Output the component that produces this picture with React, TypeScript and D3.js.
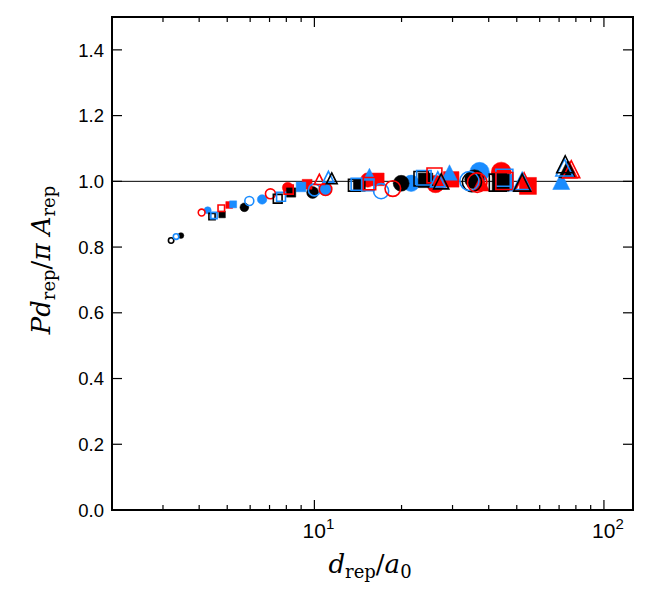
import React from 'react'
import * as d3 from 'd3'

// d_rep/a0 vs P d_rep / (pi A_rep), grouped by colour / marker / fill
const blackOpenCircle: [number, number][] = [[3.2, 0.82], [35.0, 0.998]]
const blueOpenCircle: [number, number][] = [[3.33, 0.832], [5.96, 0.94], [10.0, 0.974], [17.0, 0.97], [34.3, 1.001]]
const blackFilledCircle: [number, number][] = [[3.46, 0.835], [5.73, 0.921], [9.86, 0.966], [19.94, 0.994], [35.7, 1.006]]
const redOpenCircle: [number, number][] = [[4.08, 0.905], [7.05, 0.962], [10.93, 0.976], [18.66, 0.978], [36.5, 0.996]]
const blueFilledCircle: [number, number][] = [[4.28, 0.912], [6.6, 0.945], [10.9, 0.976], [21.59, 0.994], [37.2, 1.028]]
const redFilledCircle: [number, number][] = [[8.09, 0.981], [15.29, 1.004], [26.2, 0.992], [44.2, 1.028]]

const blackOpenSquare: [number, number][] = [[4.43, 0.893], [7.47, 0.947], [13.74, 0.988], [23.38, 1.008], [43.0, 0.996]]
const blueOpenSquare: [number, number][] = [[4.5, 0.896], [7.67, 0.953], [14.04, 0.991], [15.29, 0.99], [23.88, 1.011], [45.3, 1.011]]
const redOpenSquare: [number, number][] = [[4.77, 0.918], [8.15, 0.975], [15.5, 0.993], [25.98, 1.018], [45.3, 1.001]]
const blackFilledSquare: [number, number][] = [[4.8, 0.899], [8.31, 0.966], [14.3, 0.988], [24.2, 1.003], [44.0, 0.996]]
const redFilledSquare: [number, number][] = [[5.08, 0.928], [9.44, 0.991], [16.56, 1.006], [29.68, 1.006], [54.64, 0.986]]
const blueFilledSquare: [number, number][] = [[5.24, 0.93], [8.99, 0.983], [45.34, 0.996]]

const redOpenTriangle: [number, number][] = [[10.4, 1.006], [53.0, 1.0], [77.1, 1.037]]
const blueOpenTriangle: [number, number][] = [[11.18, 1.014], [26.69, 1.006], [52.2, 1.001], [73.0, 1.042]]
const blackOpenTriangle: [number, number][] = [[11.48, 1.009], [27.41, 1.0], [52.2, 0.996], [73.5, 1.052]]
const blueFilledTriangle: [number, number][] = [[15.49, 1.021], [29.28, 1.027], [71.2, 1.001]]
const redFilledTriangle: [number, number][] = [[37.67, 0.996], [76.0, 1.035]]
const blackFilledTriangle: [number, number][] = [[74.7, 1.037]]

const yTicks = [0, 0.2, 0.4, 0.6, 0.8, 1.0, 1.2, 1.4]
const xMajor = [10, 100]
const xMinor = [3, 4, 5, 6, 7, 8, 9, 20, 30, 40, 50, 60, 70, 80, 90]

const RED = '#ff0000'
const BLUE = '#1a8cff'
const BLACK = '#000000'

type Shape = 'circle' | 'square' | 'triangle'
const series: { pts: [number, number][]; shape: Shape; color: string; filled: boolean }[] = [
  { pts: redFilledCircle, shape: 'circle', color: RED, filled: true },
  { pts: blueFilledCircle, shape: 'circle', color: BLUE, filled: true },
  { pts: blackFilledCircle, shape: 'circle', color: BLACK, filled: true },
  { pts: redFilledSquare, shape: 'square', color: RED, filled: true },
  { pts: blueFilledSquare, shape: 'square', color: BLUE, filled: true },
  { pts: blackFilledSquare, shape: 'square', color: BLACK, filled: true },
  { pts: blueFilledTriangle, shape: 'triangle', color: BLUE, filled: true },
  { pts: redFilledTriangle, shape: 'triangle', color: RED, filled: true },
  { pts: blackFilledTriangle, shape: 'triangle', color: BLACK, filled: true },
  { pts: blackOpenCircle, shape: 'circle', color: BLACK, filled: false },
  { pts: blueOpenCircle, shape: 'circle', color: BLUE, filled: false },
  { pts: redOpenCircle, shape: 'circle', color: RED, filled: false },
  { pts: blackOpenSquare, shape: 'square', color: BLACK, filled: false },
  { pts: blueOpenSquare, shape: 'square', color: BLUE, filled: false },
  { pts: redOpenSquare, shape: 'square', color: RED, filled: false },
  { pts: redOpenTriangle, shape: 'triangle', color: RED, filled: false },
  { pts: blueOpenTriangle, shape: 'triangle', color: BLUE, filled: false },
  { pts: blackOpenTriangle, shape: 'triangle', color: BLACK, filled: false },
]

const W = 653
const H = 612
const L = 112
const R = 633
const T = 17
const B = 510

function markerPath(shape: Shape, s: number) {
  const h = s / 2
  if (shape === 'circle') return d3.arc()({ innerRadius: 0, outerRadius: h, startAngle: 0, endAngle: 2 * Math.PI }) as string
  if (shape === 'square') return `M${-h},${-h}H${h}V${h}H${-h}Z`
  return `M0,${-h}L${h},${h}L${-h},${h}Z`
}

export default function App() {
  const x = d3.scaleLog().domain([2, 126]).range([L, R])
  const y = d3.scaleLinear().domain([0, 1.5]).range([B, T])
  const size = d3.scaleLog().domain([3, 40]).range([5, 20]).clamp(true)
  const factor: Record<Shape, number> = { circle: 1, square: 0.85, triangle: 0.85 }

  const tickFont = '"Liberation Sans", Arial, sans-serif'
  const mathFont = '"DejaVu Serif", "Liberation Serif", serif'

  return (
    <svg width={W} height={H} style={{ position: 'absolute', left: 0, top: 0, background: '#fff' }}>
      {/* reference line */}
      <line x1={L} x2={R} y1={y(1)} y2={y(1)} stroke="#000" strokeWidth={1} />

      {series.map((s, i) => (
        <g key={i}>
          {s.pts.map(([vx, vy], j) => (
            <path
              key={j}
              transform={`translate(${x(vx)},${y(vy)})`}
              d={markerPath(s.shape, size(vx) * factor[s.shape])}
              fill={s.filled ? s.color : 'none'}
              stroke={s.color}
              strokeWidth={s.filled ? 0.5 : 1.6}
            />
          ))}
        </g>
      ))}

      {/* ticks, inward on all four sides */}
      {yTicks.map(t => (
        <g key={t}>
          <line x1={L} x2={L + 10} y1={y(t)} y2={y(t)} stroke="#000" strokeWidth={1.2} />
          <line x1={R - 10} x2={R} y1={y(t)} y2={y(t)} stroke="#000" strokeWidth={1.2} />
          <text x={L - 8} y={y(t)} dy="0.36em" textAnchor="end" fontFamily={tickFont} fontSize={18.5}>
            {t.toFixed(1)}
          </text>
        </g>
      ))}
      {xMinor.map(t => (
        <g key={t}>
          <line x1={x(t)} x2={x(t)} y1={B} y2={B - 5} stroke="#000" strokeWidth={1.2} />
          <line x1={x(t)} x2={x(t)} y1={T} y2={T + 5} stroke="#000" strokeWidth={1.2} />
        </g>
      ))}
      {xMajor.map((t, i) => (
        <g key={t}>
          <line x1={x(t)} x2={x(t)} y1={B} y2={B - 10} stroke="#000" strokeWidth={1.2} />
          <line x1={x(t)} x2={x(t)} y1={T} y2={T + 10} stroke="#000" strokeWidth={1.2} />
          <text x={x(t) + 4} y={538} textAnchor="middle" fontFamily={tickFont} fontSize={21}>
            10<tspan dy={-9} fontSize={15}>{i + 1}</tspan>
          </text>
        </g>
      ))}

      <rect x={L} y={T} width={R - L} height={B - T} fill="none" stroke="#000" strokeWidth={2} />

      {/* axis labels */}
      <text x={370} y={573} textAnchor="middle" fontFamily={mathFont} fontSize={26}>
        <tspan fontStyle="italic">d</tspan>
        <tspan dy={5} fontSize={18}>rep</tspan>
        <tspan dy={-5}>/</tspan>
        <tspan fontStyle="italic">a</tspan>
        <tspan dy={5} fontSize={18}>0</tspan>
      </text>
      <text
        transform={`translate(50,260) rotate(-90)`}
        textAnchor="middle"
        fontFamily={mathFont}
        fontSize={26}
      >
        <tspan fontStyle="italic">Pd</tspan>
        <tspan dy={5} fontSize={18}>rep</tspan>
        <tspan dy={-5}>/</tspan>
        <tspan fontStyle="italic">π A</tspan>
        <tspan dy={5} fontSize={18}>rep</tspan>
      </text>
    </svg>
  )
}
